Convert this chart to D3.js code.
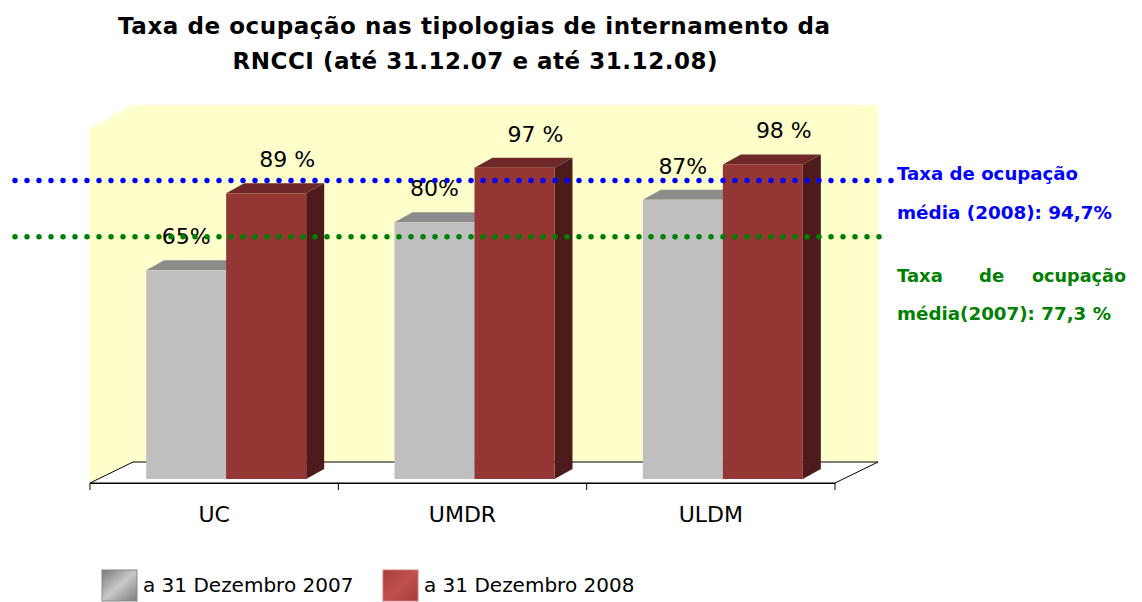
<!DOCTYPE html>
<html>
<head>
<meta charset="utf-8">
<script src="https://cdn.jsdelivr.net/npm/d3@7"></script>
<style>
  body { margin: 0; background: #fff; }
  svg { display: block; font-family: "DejaVu Sans", sans-serif; }
</style>
</head>
<body>
<div id="chart"></div>
<script>
const categories = ["UC", "UMDR", "ULDM"]
const seriesKeys = ["2007", "2008"]
const seriesNames = ["a 31 Dezembro 2007", "a 31 Dezembro 2008"]
const values2007 = [65, 80, 87]
const values2008 = [89, 97, 98]
const labels2007 = ["65%", "80%", "87%"]
const labels2008 = ["89 %", "97 %", "98 %"]
// dotted reference lines, levels
const refLevels = [93, 75.5]
const refColors = ["#0000ff", "#008000"]

const width = 1142, height = 602
const svg = d3.select("#chart").append("svg")
  .attr("width", width).attr("height", height)
  .attr("viewBox", [0, 0, width, height])

const x = d3.scaleBand().domain(categories).range([90, 835])
const xs = d3.scaleBand().domain(seriesKeys).range([-80, 80])
const y = d3.scaleLinear().domain([0, 100]).range([479, 158])

const floor = { dx: 43, dy: -21 }
const bar = { dx: 18, dy: -10, shift: 12 }
const wallTop = 105
const x0 = x.range()[0], x1 = x.range()[1], yf = 483

// walls and floor
const g = svg.append("g")
g.append("polygon")
  .attr("points", [[x0, yf], [x0, 128], [x0 + floor.dx, wallTop], [x0 + floor.dx, yf + floor.dy]].join(" "))
  .attr("fill", "#ffffcc")
g.append("rect")
  .attr("x", x0 + floor.dx).attr("y", wallTop)
  .attr("width", x1 - x0).attr("height", yf + floor.dy - wallTop)
  .attr("fill", "#ffffcc")
g.append("polygon")
  .attr("points", [[x0, yf], [x0 + floor.dx, yf + floor.dy], [x1 + floor.dx, yf + floor.dy], [x1, yf]].join(" "))
  .attr("fill", "#fff").attr("stroke", "#000").attr("stroke-width", 1)

// axis
const axis = g.append("g").attr("transform", `translate(0,${yf})`)
  .call(d3.axisBottom(x).tickSize(0).tickPadding(23))
axis.select(".domain").attr("stroke", "#000")
axis.selectAll("text").attr("font-size", 22).attr("fill", "#000")
  .attr("font-family", "DejaVu Sans")
axis.selectAll(".tick line").remove()
axis.selectAll(".edge")
  .data(d3.range(categories.length + 1))
  .join("line")
  .attr("x1", i => i < categories.length ? x(categories[i]) : x1)
  .attr("x2", i => i < categories.length ? x(categories[i]) : x1)
  .attr("y1", 0).attr("y2", 7)
  .attr("stroke", "#000")

const rows = categories.map((c, i) => ({
  cat: c,
  bars: [
    { key: "2007", value: values2007[i], label: labels2007[i] },
    { key: "2008", value: values2008[i], label: labels2008[i] },
  ]
}))

const colors = {
  "2007": { front: "#bfbfbf", top: "#8c8c8c", side: "#8f8f8f" },
  "2008": { front: "#943634", top: "#6f2828", side: "#4d1b1b" },
}

const bars = g.append("g")
rows.forEach(r => {
  r.bars.forEach(b => {
    const bx = x(r.cat) + x.bandwidth() / 2 + bar.shift + xs(b.key)
    const bw = xs.bandwidth()
    const yt = y(b.value), yb = y(0)
    const c = colors[b.key]
    bars.append("polygon")
      .attr("points", [[bx + bw, yb], [bx + bw, yt], [bx + bw + bar.dx, yt + bar.dy], [bx + bw + bar.dx, yb + bar.dy]].join(" "))
      .attr("fill", c.side)
    bars.append("polygon")
      .attr("points", [[bx, yt], [bx + bar.dx, yt + bar.dy], [bx + bw + bar.dx, yt + bar.dy], [bx + bw, yt]].join(" "))
      .attr("fill", c.top)
    bars.append("rect")
      .attr("x", bx).attr("y", yt).attr("width", bw).attr("height", yb - yt)
      .attr("fill", c.front)
    bars.append("text")
      .attr("x", bx + bw / 2 + (b.key === "2008" ? 21 : 0))
      .attr("y", yt - 26)
      .attr("text-anchor", "middle")
      .attr("font-size", 22)
      .text(b.label)
  })
})

// dotted average lines
const refEnds = [893, 882]
svg.append("g").selectAll("line")
  .data(refLevels)
  .join("line")
  .attr("x1", 15).attr("x2", (d, i) => refEnds[i])
  .attr("y1", d => y(d)).attr("y2", d => y(d))
  .attr("stroke", (d, i) => refColors[i])
  .attr("stroke-width", 5.5)
  .attr("stroke-linecap", "round")
  .attr("stroke-dasharray", "0 12")

// annotations
const ann = svg.append("g").attr("font-weight", "bold").attr("font-size", 18)
ann.append("text").attr("x", 897).attr("y", 180).attr("fill", refColors[0])
  .attr("textLength", 181).attr("lengthAdjust", "spacingAndGlyphs").text("Taxa de ocupação")
ann.append("text").attr("x", 897).attr("y", 219).attr("fill", refColors[0])
  .attr("textLength", 215).attr("lengthAdjust", "spacingAndGlyphs").text("média (2008): 94,7%")
const just = ann.append("g").attr("fill", refColors[1])
just.append("text").attr("x", 897).attr("y", 282).text("Taxa")
just.append("text").attr("x", 979).attr("y", 282).text("de")
just.append("text").attr("x", 1126).attr("y", 282).attr("text-anchor", "end")
  .attr("textLength", 94).attr("lengthAdjust", "spacingAndGlyphs").text("ocupação")
ann.append("text").attr("x", 897).attr("y", 320).attr("fill", refColors[1])
  .attr("textLength", 214).attr("lengthAdjust", "spacingAndGlyphs").text("média(2007): 77,3 %")

// title
const title = svg.append("g").attr("font-weight", "bold").attr("font-size", 23)
  .attr("text-anchor", "middle")
title.append("text").attr("x", 474).attr("y", 34)
  .attr("textLength", 712).attr("lengthAdjust", "spacing")
  .text("Taxa de ocupação nas tipologias de internamento da")
title.append("text").attr("x", 475).attr("y", 69)
  .attr("textLength", 485).attr("lengthAdjust", "spacing")
  .text("RNCCI (até 31.12.07 e até 31.12.08)")

// legend
const defs = svg.append("defs")
const grads = [["#c8c8c8", "#7a7a7a"], ["#c0504d", "#a83c3a"]]
grads.forEach((gc, i) => {
  const gr = defs.append("linearGradient").attr("id", "lg" + i)
    .attr("x1", 0).attr("y1", 0).attr("x2", 1).attr("y2", 1)
  gr.append("stop").attr("offset", "0%").attr("stop-color", gc[1])
  gr.append("stop").attr("offset", "50%").attr("stop-color", gc[0])
  gr.append("stop").attr("offset", "100%").attr("stop-color", gc[1])
})
const legend = svg.append("g").attr("transform", "translate(102,570)")
const li = legend.selectAll("g").data(seriesNames).join("g")
  .attr("transform", (d, i) => `translate(${i * 281},0)`)
li.append("rect").attr("width", 35).attr("height", 31)
  .attr("fill", (d, i) => `url(#lg${i})`)
  .attr("stroke", (d, i) => i ? "#d07a78" : "#888")
li.append("text").attr("x", 41).attr("y", 22).attr("font-size", 20)
  .text(d => d)
</script>
</body>
</html>
